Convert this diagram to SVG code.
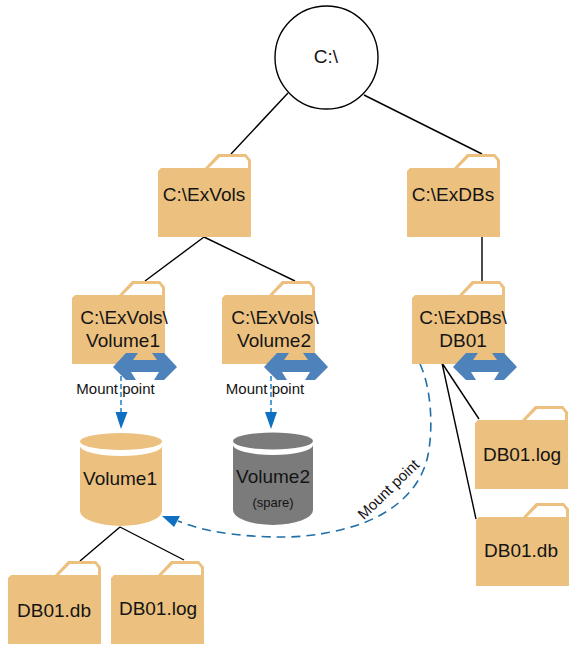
<svg xmlns="http://www.w3.org/2000/svg" xmlns:xlink="http://www.w3.org/1999/xlink" width="575" height="652" viewBox="0 0 575 652">
<style>
text{font-family:"Liberation Sans",Arial,sans-serif;fill:#141414;text-anchor:middle}
.n{font-size:19px}
.m{font-size:15px}
.s{font-size:13px}
.l{stroke:#000;stroke-width:1.4;fill:none}
.d{stroke:#1f6fa8;stroke-width:1.6;fill:none;stroke-dasharray:9 6}
.v{stroke:#0f75c0;stroke-width:1.4;fill:none;stroke-dasharray:5 3}
.h{fill:#0f6fc0}
.b{fill:#4d82bb}
</style>
<defs>
<g id="folder">
<path d="M0 17L3 14H47L60 0H88L93 6V83H0Z" fill="#ecc07f"/>
<path d="M51 14L62 3H87L90 7V14Z" fill="#fff"/>
</g>
<path id="dbl" d="M0 14L13 0H25L20 7H44L39 0H51L64 14L51 27H41L46 19H18L23 27H13Z"/>
</defs>
<g id="connectors">
<path class="l" d="M288 93L231 154M364 95L482 154M204 237L145 281M204 237L295 281M482 237V281M442 363L479 419M442 363L476 519M120 527L80 561M120 527L184 560"/>
<path class="v" d="M121 376V413M271 376V413"/>
<path class="h" d="M115.500 412H127.500L121 429ZM265 412H277L271 429Z"/>
<path class="d" d="M420 364C432 390 433 430 428 455C420 495 385 515 363 523C330 535 300 537 283 537C250 537 210 534 178 521"/>
<path class="h" d="M162 516L180 516L174 527Z"/>
</g>
<g id="node-root"><circle cx="326.500" cy="57.500" r="51.500" fill="#fff" stroke="#000" stroke-width="1.4"/><text class="n" x="326" y="63">C:\</text></g>
<g id="node-exvols"><use xlink:href="#folder" x="158" y="154"/><text class="n" x="204" y="201">C:\ExVols</text></g>
<g id="node-exdbs"><use xlink:href="#folder" x="407" y="154"/><text class="n" x="453" y="201">C:\ExDBs</text></g>
<g id="node-vol1-folder"><use xlink:href="#folder" x="72" y="281"/><text class="n" x="124" y="324">C:\ExVols\</text><text class="n" x="123" y="347">Volume1</text><use xlink:href="#dbl" class="b" x="113" y="353"/></g>
<g id="node-vol2-folder"><use xlink:href="#folder" x="222" y="281"/><text class="n" x="275" y="324">C:\ExVols\</text><text class="n" x="274" y="347">Volume2</text><use xlink:href="#dbl" class="b" x="264" y="353"/></g>
<g id="node-db01-folder"><use xlink:href="#folder" x="412" y="281"/><text class="n" x="463" y="324">C:\ExDBs\</text><text class="n" x="463" y="347">DB01</text><use xlink:href="#dbl" class="b" x="453" y="353"/></g>
<g id="node-db01-log-r"><use xlink:href="#folder" x="475" y="406"/><text class="n" x="522" y="461">DB01.log</text></g>
<g id="node-db01-db-r"><use xlink:href="#folder" x="476" y="503"/><text class="n" x="521" y="557">DB01.db</text></g>
<g id="node-volume1"><path d="M80 446A41 10 0 0 0 162 446V511A41 15 0 0 1 80 511Z" fill="#ecc07f"/><ellipse cx="121" cy="441.500" rx="41" ry="8.500" fill="#ecc07f"/><text class="n" x="120" y="485">Volume1</text></g>
<g id="node-volume2"><path d="M233 445A40 10 0 0 0 313 445V510A40 15 0 0 1 233 510Z" fill="#7b7b7b"/><ellipse cx="273" cy="441" rx="40" ry="8.500" fill="#7b7b7b"/><text class="n" x="273" y="483">Volume2</text><text class="s" x="273" y="507">(spare)</text></g>
<g id="node-db01-db-l"><use xlink:href="#folder" x="8" y="561"/><text class="n" x="54" y="617">DB01.db</text></g>
<g id="node-db01-log-l"><use xlink:href="#folder" x="111" y="561"/><text class="n" x="158" y="615">DB01.log</text></g>
<g id="labels">
<text class="m" x="115.500" y="394">Mount point</text>
<text class="m" x="265" y="394">Mount point</text>
<text class="m" transform="translate(392 493) rotate(-44)">Mount point</text>
</g>
</svg>
